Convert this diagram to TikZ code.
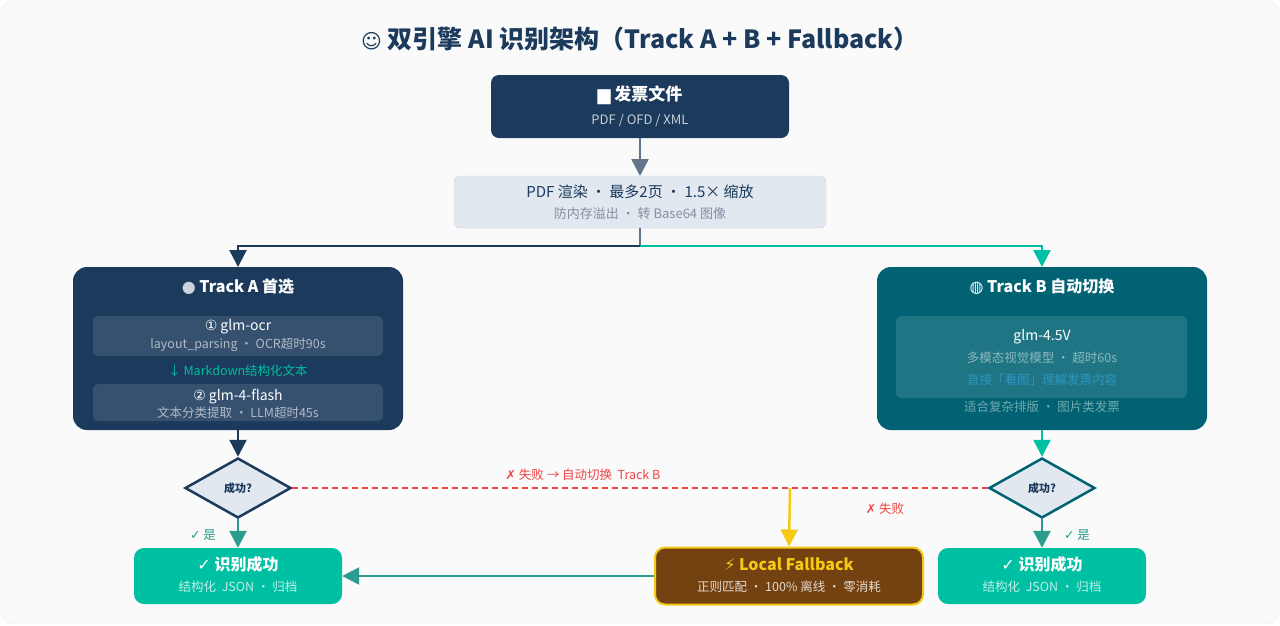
\documentclass[tikz,border=0pt]{standalone}
\usepackage{fontspec}
\setmainfont{Noto Sans CJK SC}
\newfontfamily\symfont{DejaVu Sans}
\usetikzlibrary{shapes.geometric,arrows.meta}
\definecolor{navy}{HTML}{1B3A5C}
\definecolor{tealbox}{HTML}{006272}
\definecolor{mint}{HTML}{00C0A3}
\definecolor{arrowgray}{HTML}{64748B}
\definecolor{lightbox}{HTML}{E2E8F0}
\definecolor{failred}{HTML}{EF4444}
\definecolor{gold}{HTML}{F6C915}
\definecolor{brown}{HTML}{744210}
\definecolor{okline}{HTML}{2A9D8F}
\tikzset{
  box/.style={draw=none, rounded corners=10pt, inner sep=0pt, align=center},
  inner/.style={fill=white, fill opacity=0.12, rounded corners=5pt},
  flow/.style={-{Triangle[length=17pt,width=17pt]}, line width=2.5pt},
  decide/.style={diamond, draw, line width=2.5pt, fill=lightbox, minimum width=106pt, minimum height=60pt, inner sep=0pt, aspect=1.77, font=\bfseries\fontsize{11}{12}\selectfont, text=navy},
  note/.style={font=\fontsize{12.5}{14}\selectfont},
}
\begin{document}
\begin{tikzpicture}[x=1pt, y=-1pt, >=Stealth]
\useasboundingbox (0,0) rectangle (1280,625);
\fill[white] (0,0) rectangle (1280,625);
\draw[fill=black!2, draw=black!8, rounded corners=12pt] (1,1) rectangle (1279,624);

% Title
\node[font=\bfseries\fontsize{25}{29}\selectfont, text=navy] (title) at (640,39) {{\symfont\fontsize{20}{24}\selectfont ☺}\ 双引擎 AI 识别架构（Track A + B + Fallback）};

% Input and rendering
\fill[navy, rounded corners=8pt] (491,75) rectangle (789,138);
\node[text=white, font=\bfseries\fontsize{17}{20}\selectfont] (invoice) at (640,95) {{\symfont ▆}\ 发票文件};
\node[text=white!75!navy, font=\fontsize{13}{15}\selectfont] (formats) at (640,120) {PDF / OFD / XML};
\coordinate (inbot) at (640,138);
\draw[lightbox!80!black!60, fill=lightbox, rounded corners=6pt] (454,176) rectangle (826,228);
\coordinate (rtop) at (640,176);
\coordinate (rbot) at (640,228);
\node[text=navy, font=\fontsize{15}{17}\selectfont] (render) at (640,192) {PDF 渲染 · 最多2页 · 1.5× 缩放};
\node[text=arrowgray!80, font=\fontsize{13}{15}\selectfont] (rendersub) at (640,214) {防内存溢出 · 转 Base64 图像};
\draw[flow, arrowgray] (inbot) -- (rtop);

% Split
\coordinate (split) at (640,246);
\coordinate (atop) at (238,267);
\coordinate (btop) at (1042,267);
\draw[arrowgray, line width=2.5pt] (rbot) -- (split);
\draw[flow, navy] (split) -| (atop);
\draw[flow, mint] (split) -| (btop);

% Track A
\fill[navy, rounded corners=14pt] (73,267) rectangle (403,430);
\node[text=white, font=\bfseries\fontsize{16}{19}\selectfont] (tracka) at (238,287) {{\symfont\color{lightbox!80!gray}●}\ Track A 首选};
\fill[inner] (93,316) rectangle (383,356);
\node[text=white, font=\fontsize{14}{16}\selectfont] (ocr) at (238,327) {{\symfont ①}\ glm-ocr};
\node[text=white!65!navy, font=\fontsize{12.5}{14}\selectfont] (ocrsub) at (238,345) {layout\_parsing · OCR超时90s};
\node[text=mint, font=\fontsize{12.5}{14}\selectfont] (md) at (238,371) {↓ Markdown结构化文本};
\fill[inner] (93,384) rectangle (383,421);
\node[text=white, font=\fontsize{14}{16}\selectfont] (flash) at (238,397) {{\symfont ②}\ glm-4-flash};
\node[text=white!65!navy, font=\fontsize{12.5}{14}\selectfont] (flashsub) at (238,413) {文本分类提取 · LLM超时45s};
\coordinate (abot) at (238,430);

% Track B
\fill[tealbox, rounded corners=14pt] (877,267) rectangle (1207,430);
\node[text=white, font=\bfseries\fontsize{16}{19}\selectfont] (trackb) at (1042,287) {{\symfont ◍}\ Track B 自动切换};
\fill[inner] (896,316) rectangle (1187,398);
\node[text=white, font=\fontsize{14}{16}\selectfont] (vision) at (1042,337) {glm-4.5V};
\node[text=white!55!tealbox, font=\fontsize{12.5}{14}\selectfont] (visionsub) at (1042,358) {多模态视觉模型 · 超时60s};
\node[text=cyan!60!tealbox, font=\fontsize{12.5}{14}\selectfont] (look) at (1042,380) {直接「看图」理解发票内容};
\node[text=white!45!tealbox, font=\fontsize{12.5}{14}\selectfont] (fit) at (1042,407) {适合复杂排版 · 图片类发票};
\coordinate (bbot) at (1042,430);

% Decisions
\node[decide, draw=navy] (oka) at (238,488) {成功?};
\node[decide, draw=tealbox] (okb) at (1042,488) {成功?};
\draw[flow, navy] (abot) -- (oka.north);
\draw[flow, mint] (bbot) -- (okb.north);
\draw[failred, line width=1.8pt, dashed, dash pattern=on 6pt off 4pt] (oka.east) -- (okb.west);
\node[note, text=failred] (switch) at (583,475) {{\symfont\bfseries ✗}\ 失败 → 自动切换\ \ Track B};
\coordinate (drop) at (790,488);

% Results
\node[box, fill=mint, minimum width=208pt, minimum height=56pt] (succa) at (238,576) {};
\node[text=white, font=\bfseries\fontsize{16}{19}\selectfont] (succatitle) at (238,564) {{\symfont ✓}\ 识别成功};
\node[text=white!75!mint, font=\fontsize{12.5}{14}\selectfont] (succasub) at (238,587) {结构化\ \ JSON · 归档};
\node[box, fill=mint, minimum width=208pt, minimum height=56pt] (succb) at (1042,576) {};
\node[text=white, font=\bfseries\fontsize{16}{19}\selectfont] (succbtitle) at (1042,564) {{\symfont ✓}\ 识别成功};
\node[text=white!75!mint, font=\fontsize{12.5}{14}\selectfont] (succbsub) at (1042,587) {结构化\ \ JSON · 归档};
\node[box, fill=brown, draw=gold, line width=2pt, minimum width=268pt, minimum height=57pt] (fallback) at (789,576) {};
\node[text=gold, font=\bfseries\fontsize{16}{19}\selectfont] (fbtitle) at (789,564) {{\symfont ⚡}\ Local Fallback};
\node[text=white!80!brown, font=\fontsize{12.5}{14}\selectfont] (fbsub) at (789,587) {正则匹配 · 100\% 离线 · 零消耗};

\draw[flow, okline] (oka.south) -- (succa.north);
\draw[flow, okline] (okb.south) -- (succb.north);
\node[note, text=okline] (yesa) at (203,535) {{\symfont ✓}\ 是};
\node[note, text=okline] (yesb) at (1077,535) {{\symfont ✓}\ 是};
\draw[flow, gold] (drop) -- (fallback.north);
\node[note, text=failred] (fail) at (885,509) {{\symfont\bfseries ✗}\ 失败};
\draw[flow, okline] (fallback.west) -- (succa.east);
\end{tikzpicture}
\end{document}
